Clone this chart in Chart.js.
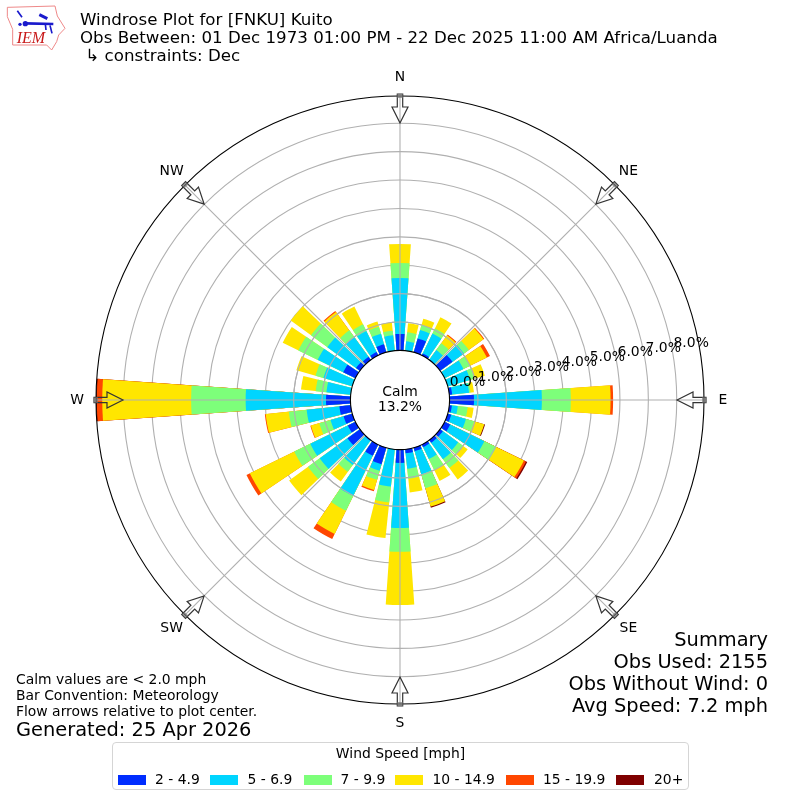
<!DOCTYPE html>
<html lang="en">
<head>
    <meta charset="UTF-8">
    <title>Windrose Plot for [FNKU] Kuito</title>
    <script src="https://cdn.jsdelivr.net/npm/chart.js"></script>
    <style>
        body {
            margin: 0;
            background: #fff;
            font-family: "DejaVu Sans", sans-serif;
            color: #000;
        }
        #wrap {
            position: relative;
            width: 800px;
            height: 800px;
            overflow: hidden;
        }
        canvas { position: absolute; left: 0; top: 0; }
        .t {
            position: absolute;
            white-space: pre;
            line-height: 1;
        }
        #logo { position: absolute; left: 0; top: 0; }
        #legend {
            position: absolute;
            left: 112px;
            top: 742px;
            width: 575px;
            height: 46px;
            border: 1px solid #d5d5d5;
            border-radius: 4px;
            background: #fff;
        }
        .swatch { position: absolute; top: 32px; width: 28px; height: 10px; }
    </style>
</head>
<body>
<div id="wrap">
    <canvas id="rose" width="800" height="800"></canvas>
    <svg id="logo" width="70" height="54" viewBox="0 0 210 162">
        <path d="M22 22 L165 18 L172 48 L195 85 L176 105 L170 125 L155 150 L140 135 L38 135 L38 88 L22 50 Z"
              fill="#fff" stroke="#e88" stroke-width="3"/>
        <path d="M75 70 L160 72" stroke="#1a1acc" stroke-width="8"/>
        <path d="M118 44 L142 56" stroke="#1a1acc" stroke-width="9"/>
        <path d="M52 32 L66 52 M136 72 L138 90 M150 76 L156 100" stroke="#1a1acc" stroke-width="5"/>
        <circle cx="76" cy="71" r="8" fill="#1a1acc"/>
        <circle cx="60" cy="73" r="5" fill="#1a1acc"/>
        <text x="50" y="130" font-family="Liberation Serif" font-style="italic" font-size="48" fill="#c81818">IEM</text>
    </svg>
    <div class="t" style="left:80px;top:12px;font-size:16.67px">Windrose Plot for [FNKU] Kuito</div>
    <div class="t" style="left:80px;top:30px;font-size:16.67px">Obs Between: 01 Dec 1973 01:00 PM - 22 Dec 2025 11:00 AM Africa/Luanda</div>
    <div class="t" style="left:80px;top:48px;font-size:16.67px"> ↳ constraints: Dec</div>

    <div class="t" style="left:350px;width:100px;text-align:center;top:385px;font-size:13.9px">Calm</div>
    <div class="t" style="left:350px;width:100px;text-align:center;top:400px;font-size:13.9px">13.2%</div>

    <div class="t" style="right:32px;top:630px;font-size:19.4px">Summary</div>
    <div class="t" style="right:32px;top:652px;font-size:19.4px">Obs Used: 2155</div>
    <div class="t" style="right:32px;top:674px;font-size:19.4px">Obs Without Wind: 0</div>
    <div class="t" style="right:32px;top:696px;font-size:19.4px">Avg Speed: 7.2 mph</div>

    <div class="t" style="left:16px;top:673px;font-size:13.9px">Calm values are &lt; 2.0 mph</div>
    <div class="t" style="left:16px;top:689px;font-size:13.9px">Bar Convention: Meteorology</div>
    <div class="t" style="left:16px;top:705px;font-size:13.9px">Flow arrows relative to plot center.</div>
    <div class="t" style="left:16px;top:720px;font-size:19.4px">Generated: 25 Apr 2026</div>

    <div id="legend"></div>
</div>

<script>
    // percent of obs per direction, N then clockwise every 10 degrees
    const directions = [0,10,20,30,40,50,60,70,80,90,100,110,120,130,140,150,160,170,
                        180,190,200,210,220,230,240,250,260,270,280,290,300,310,320,330,340,350];
    const speed2to5   = [.58,0,.51,.08,.02,.54,0,0,.1,.86,.09,.13,.22,.12,.12,.1,.13,.14,
                         .47,0,.61,.44,.03,.54,.3,.32,.4,.86,0,0,.48,.17,.14,.13,.3,0];
    const speed5to7   = [1.97,.33,.31,.78,.41,.5,.74,.82,.6,2.39,.21,.54,1.34,.67,.71,.47,.84,.55,
                         2.29,1.32,.24,1.58,1.05,1.21,1.47,.48,1.16,2.83,.86,1.06,1.0,1.25,.86,.83,.38,.55];
    const speed7to10  = [.53,.32,.18,.2,.29,.21,.26,.16,.05,1.02,.35,.3,.47,.21,.38,.43,.52,.35,
                         .84,.56,.33,.57,.3,.51,.63,.41,.63,1.92,.38,.29,.76,.71,.29,.26,.26,.16];
    const speed10to15 = [.67,.32,.23,.44,.35,.64,.66,.38,.12,1.4,.21,.37,1.08,.2,.5,.43,.67,.49,
                         1.87,1.26,.37,.91,.42,.82,1.74,.31,.82,3.13,.52,.7,.61,.88,.8,.7,.19,.29];
    const speed15to20 = [0,0,0,0,.04,.03,.12,0,0,.09,0,0,.08,0,0,0,0,0,
                         0,0,.05,.2,0,0,.13,.02,.03,.19,0,0,0,0,.04,0,0,0];
    const speed20up   = [0,0,0,0,0,0,0,0,0,0,0,.03,.05,0,0,0,.04,0,
                         0,0,0,0,0,0,0,0,0,.03,0,0,0,0,0,0,0,0];

    const speedBins = ['2 - 4.9', '5 - 6.9', '7 - 9.9', '10 - 14.9', '15 - 19.9', '20+'];
    const speedColors = ['#002dff', '#00d5ff', '#7dff7a', '#ffe600', '#ff4700', '#7f0000'];
    const speedSeries = [speed2to5, speed5to7, speed7to10, speed10to15, speed15to20, speed20up];

    const ringValues = [0, 1, 2, 3, 4, 5, 6, 7, 8];
    const tickLabels = ['0.0%', '1.0%', '2.0%', '3.0%', '4.0%', '5.0%', '6.0%', '7.0%', '8.0%'];
    const compassNames = ['N', 'NE', 'E', 'SE', 'S', 'SW', 'W', 'NW'];
    const compassAngles = [0, 45, 90, 135, 180, 225, 270, 315];
    // the two inner rings show over the bars in the original, the others go behind them
    const ringsOverBars = [1, 2];

    const rMin = -1.746;
    const rMax = 8.96;
    const barDeg = 8;
    const gapDeg = 2;

    // polar area arcs always start at the center, so stack by drawing cumulative
    // totals on top of each other (dataset 0 is painted last) and cover the hole later.
    // Every bar is followed by an empty slot, that makes the gap between bars.
    const labels = [];
    directions.forEach(d => { labels.push(d + '°'); labels.push(''); });

    const running = directions.map(() => 0);
    const datasets = speedSeries.map((series, s) => {
        const data = [];
        series.forEach((v, i) => {
            running[i] += v;
            // empty bins stay null, otherwise their arc edge shows as a dark fringe
            data.push(v > 0 ? running[i] : null);
            data.push(null);
        });
        return {
            label: speedBins[s],
            data: data,
            backgroundColor: speedColors[s],
            borderWidth: 0,
            angle: ctx => (ctx.dataIndex % 2 ? gapDeg : barDeg)
        };
    });

    function polar(scale, deg, r) {
        const a = (deg - 90) * Math.PI / 180;
        return [scale.xCenter + r * Math.cos(a), scale.yCenter + r * Math.sin(a)];
    }

    function drawArrow(ctx, scale, deg) {
        // outline arrow sitting on the rim, pointing at the center
        ctx.save();
        ctx.translate(scale.xCenter, scale.yCenter);
        ctx.rotate((deg - 90) * Math.PI / 180);
        ctx.beginPath();
        ctx.moveTo(277, 0);
        ctx.lineTo(293, -8);
        ctx.lineTo(293, -2.7);
        ctx.lineTo(306, -2.7);
        ctx.lineTo(306, 2.7);
        ctx.lineTo(293, 2.7);
        ctx.lineTo(293, 8);
        ctx.closePath();
        ctx.strokeStyle = '#333';
        ctx.lineWidth = 1.2;
        ctx.stroke();
        ctx.fillStyle = 'rgba(120,120,120,0.7)';
        ctx.fillRect(302, -2.7, 4, 5.4);
        ctx.restore();
    }

    const roseExtras = {
        id: 'roseExtras',
        afterDatasetsDraw(chart) {
            const ctx = chart.ctx;
            const scale = chart.scales.r;
            const rim = scale.getDistanceFromCenterForValue(rMax);
            const hole = scale.getDistanceFromCenterForValue(0);
            ctx.save();
            ctx.strokeStyle = '#b0b0b0';
            ctx.lineWidth = 1.1;
            ringsOverBars.forEach(v => {
                ctx.beginPath();
                ctx.arc(scale.xCenter, scale.yCenter, scale.getDistanceFromCenterForValue(v), 0, Math.PI * 2);
                ctx.stroke();
            });
            // spokes
            compassAngles.forEach(deg => {
                const p = polar(scale, deg, rim);
                ctx.beginPath();
                ctx.moveTo(scale.xCenter, scale.yCenter);
                ctx.lineTo(p[0], p[1]);
                ctx.stroke();
            });
            // center hole
            ctx.beginPath();
            ctx.arc(scale.xCenter, scale.yCenter, hole, 0, Math.PI * 2);
            ctx.fillStyle = '#fff';
            ctx.fill();
            ctx.strokeStyle = '#000';
            ctx.lineWidth = 1.1;
            ctx.stroke();
            // outer rim
            ctx.beginPath();
            ctx.arc(scale.xCenter, scale.yCenter, rim, 0, Math.PI * 2);
            ctx.stroke();
            ctx.restore();
        },
        afterDraw(chart) {
            const ctx = chart.ctx;
            const scale = chart.scales.r;
            ctx.save();
            ctx.fillStyle = '#000';
            ctx.font = '13.9px "DejaVu Sans"';
            compassAngles.forEach((deg, i) => {
                drawArrow(ctx, scale, deg);
                const p = polar(scale, deg, 323);
                ctx.textAlign = 'center';
                ctx.textBaseline = 'middle';
                ctx.fillStyle = '#000';
                ctx.fillText(compassNames[i], p[0], p[1]);
            });
            // radial labels run along the 80 degree ray
            ctx.textAlign = 'left';
            ctx.textBaseline = 'bottom';
            ringValues.forEach((v, i) => {
                const p = polar(scale, 80, scale.getDistanceFromCenterForValue(v));
                ctx.fillText(tickLabels[i], p[0] + 1, p[1] - 2);
            });
            ctx.restore();
        }
    };

    new Chart(document.getElementById('rose'), {
        type: 'polarArea',
        data: { labels: labels, datasets: datasets },
        plugins: [roseExtras],
        options: {
            responsive: false,
            animation: false,
            layout: { padding: 96 },
            plugins: {
                legend: { display: false },
                tooltip: { enabled: false }
            },
            scales: {
                r: {
                    min: rMin,
                    max: rMax,
                    startAngle: -barDeg / 2,
                    ticks: { display: false },
                    pointLabels: { display: false },
                    angleLines: { display: false },
                    afterBuildTicks: scale => {
                        scale.ticks = [rMin].concat(ringValues.slice(1)).map(v => ({ value: v }));
                    },
                    grid: {
                        circular: true,
                        lineWidth: 1.1,
                        color: '#b0b0b0'
                    }
                }
            }
        }
    });

    // legend
    const legendBox = document.getElementById('legend');
    const swatchLeft = [5, 97, 190.5, 282, 393, 503];
    const textLeft = [42, 134.5, 227.5, 319.5, 430, 541];
    const legendTitle = document.createElement('div');
    legendTitle.className = 't';
    legendTitle.style.cssText = 'left:0;width:100%;text-align:center;top:4px;font-size:13.9px';
    legendTitle.textContent = 'Wind Speed [mph]';
    legendBox.appendChild(legendTitle);
    speedBins.forEach((name, i) => {
        const sw = document.createElement('div');
        sw.className = 'swatch';
        sw.style.left = swatchLeft[i] + 'px';
        sw.style.background = speedColors[i];
        legendBox.appendChild(sw);
        const tx = document.createElement('div');
        tx.className = 't';
        tx.style.cssText = 'top:30px;font-size:13.9px;left:' + textLeft[i] + 'px';
        tx.textContent = name;
        legendBox.appendChild(tx);
    });
</script>
</body>
</html>
